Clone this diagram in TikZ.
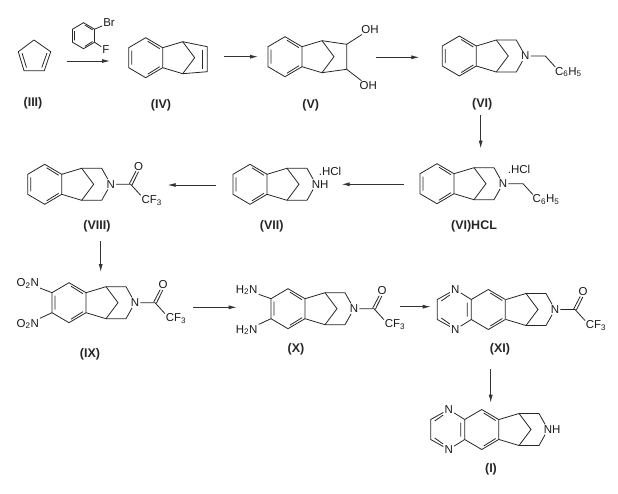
\documentclass[tikz,border=0pt]{standalone}
\usepackage{fontspec}
\setmainfont{Liberation Sans}
\usetikzlibrary{arrows.meta}
\newcommand{\sub}[1]{\textsubscript{#1}}
\tikzset{
    bond/.style={line width=.8pt, draw=black!85},
    atom/.style={font=\fontsize{11.5}{13}\selectfont, inner sep=1pt, text=black!90},
    cpdname/.style={font=\fontsize{12.5}{14}\selectfont\bfseries, inner sep=1pt, text=black!85},
    reaction/.style={line width=.8pt, draw=black!80, -{Latex[length=8pt, width=4pt]}},
    pics/benzo/.default=-14,
    pics/benzo/.style={code={
        \coordinate (-ur) at (17,-10);
        \coordinate (-lr) at (17,10);
        \coordinate (-ul) at (-17,-10);
        \coordinate (-ll) at (-17,10);
        \draw[bond] (-ur) -- (0,-20) -- (-ul) -- (-ll) -- (0,20) -- (-lr) -- cycle;
        \draw[bond] (#1,-7) -- (#1,7) (2,-16.5) -- (14,-9) (2,16.5) -- (14,9);
    }},
    pics/bridge/.style={code={
        \coordinate (-t) at (37,-16);
        \coordinate (-b) at (37,16);
        \draw[bond] (17,-10) -- (-t) -- (49,0) -- (-b) -- (17,10);
    }},
    pics/azacycle/.style={code={
        \node[atom] (-n) at (66,0) {#1};
        \draw[bond] (-t) -- (57,-16) -- (-n) -- (57,16) -- (-b);
    }},
    pics/benzyl/.style={code={
        \node[atom] (-ph) at (43,16) {C\sub{6}H\sub{5}};
        \draw[bond] (-n) -- (20,0) -- (30,11);
    }},
    pics/tfa/.style={code={
        \coordinate (-c) at (20,0);
        \node[atom] (-o) at (28,-18) {O};
        \node[atom] (-cf) at (41,16) {CF\sub{3}};
        \draw[bond] (-n) -- (-c) -- (30,11);
        \draw[bond] (18.7,-.6) -- (25.2,-13) (21.3,.6) -- (27.8,-12.5);
    }},
    pics/pyrazine/.style={code={
        \node[atom] (-nt) at (-33,-20) {N};
        \node[atom] (-nb) at (-33,20) {N};
        \draw[bond] (-nt) -- (-17,-10) (-nb) -- (-17,10);
        \draw[bond] (-nt) -- (-51,-10) -- (-51,10) -- (-nb);
        \draw[bond] (-47,-8.5) -- (-38.5,-14.5) (-47,8.5) -- (-38.5,14.5);
    }},
}
\begin{document}
\begin{tikzpicture}[x=1pt, y=-1pt]
    \useasboundingbox (0,0) rectangle (618,493);

    % first row
    \coordinate (iiia) at (34,40);
    \coordinate (iiib) at (50.7,51.7);
    \coordinate (iiic) at (44.3,70.7);
    \coordinate (iiid) at (24,70.7);
    \coordinate (iiie) at (18.3,51.7);
    \draw[bond] (iiia) -- (iiib) -- (iiic) -- (iiid) -- (iiie) -- cycle;
    \draw[bond] (22,53) -- (26.5,67.5) (47,53) -- (41.8,67.5);
    \node[cpdname] (III) at (33,103) {(III)};

    \pic[scale=.65] (fb) at (83.5,35.7) {benzo};
    \node[atom] (Br) at (109,23) {Br};
    \node[atom] (F) at (106,50) {F};
    \draw[bond] (fb-ur) -- (Br);
    \draw[bond] (fb-lr) -- (F);
    \coordinate (r1a) at (66.7,61);
    \coordinate (r1b) at (110,61);
    \draw[reaction] (r1a) -- (r1b);

    \pic (iv) at (145.7,57.7) {benzo};
    \pic (iv) at (145.7,57.7) {bridge};
    \draw[bond] (iv-t) -- (207.3,46.7) -- (207.3,71.7) -- (iv-b);
    \draw[bond] (202.7,50) -- (202.7,69);
    \node[cpdname] (IV) at (161,105) {(IV)};

    \coordinate (r2a) at (224,56.7);
    \coordinate (r2b) at (258,56.7);
    \draw[reaction] (r2a) -- (r2b);

    \pic (v) at (285,56.7) {benzo};
    \pic (v) at (285,56.7) {bridge};
    \node[atom] (OHa) at (370,29.3) {OH};
    \node[atom] (OHb) at (368.3,86) {OH};
    \coordinate (vc) at (346.7,44.3);
    \coordinate (vd) at (346.7,69.3);
    \draw[bond] (v-t) -- (vc) -- (vd) -- (v-b);
    \draw[bond] (vc) -- (OHa);
    \draw[bond] (vd) -- (OHb);
    \node[cpdname] (V) at (310.7,105) {(V)};

    \coordinate (r3a) at (376,57.3);
    \coordinate (r3b) at (419.3,57.3);
    \draw[reaction] (r3a) -- (r3b);

    \pic (vi) at (459.3,56) {benzo};
    \pic (vi) at (459.3,56) {bridge};
    \pic (vi) at (459.3,56) {azacycle={N}};
    \pic (vi) at (vi-n) {benzyl};
    \node[cpdname] (VI) at (482.3,104) {(VI)};

    \coordinate (r4a) at (480.7,115);
    \coordinate (r4b) at (480.7,148.5);
    \draw[reaction] (r4a) -- (r4b);

    % second row
    \pic (hcl) at (437,183.7) {benzo};
    \pic (hcl) at (437,183.7) {bridge};
    \pic (hcl) at (437,183.7) {azacycle={N}};
    \pic (hcl) at (hcl-n) {benzyl};
    \node[atom] (HCla) at (519,169.5) {.HCl};
    \node[cpdname] (VIHCL) at (474,226.7) {(VI)HCL};

    \coordinate (r5a) at (404,184.3);
    \coordinate (r5b) at (341.7,184.3);
    \draw[reaction] (r5a) -- (r5b);

    \pic (vii) at (250,184.3) {benzo};
    \pic (vii) at (250,184.3) {bridge};
    \pic (vii) at (250,184.3) {azacycle={N\rlap{H}}};
    \node[atom] (HClb) at (330,171.7) {.HCl};
    \node[cpdname] (VII) at (271.7,226) {(VII)};

    \coordinate (r6a) at (216,185);
    \coordinate (r6b) at (167.7,185);
    \draw[reaction] (r6a) -- (r6b);

    \pic (viii) at (44.7,184.3) {benzo};
    \pic (viii) at (44.7,184.3) {bridge};
    \pic (viii) at (44.7,184.3) {azacycle={N}};
    \pic (viii) at (viii-n) {tfa};
    \node[cpdname] (VIII) at (97,226) {(VIII)};

    \coordinate (r7a) at (100.7,241);
    \coordinate (r7b) at (100.7,272);
    \draw[reaction] (r7a) -- (r7b);

    % third row
    \pic (ix) at (69,302.7) {benzo};
    \pic (ix) at (69,302.7) {bridge};
    \pic (ix) at (69,302.7) {azacycle={N}};
    \pic (ix) at (ix-n) {tfa};
    \node[atom] (NOa) at (27.7,283.3) {O\sub{2}N};
    \node[atom] (NOb) at (27.7,324) {O\sub{2}N};
    \draw[bond] (NOa) -- (ix-ul);
    \draw[bond] (NOb) -- (ix-ll);
    \node[cpdname] (IX) at (90,354) {(IX)};

    \coordinate (r8a) at (193.3,307.3);
    \coordinate (r8b) at (236.7,307.3);
    \draw[reaction] (r8a) -- (r8b);

    \pic (x) at (288,308.7) {benzo};
    \pic (x) at (288,308.7) {bridge};
    \pic (x) at (288,308.7) {azacycle={N}};
    \pic (x) at (x-n) {tfa};
    \node[atom] (NHa) at (246.7,290) {H\sub{2}N};
    \node[atom] (NHb) at (246.7,330) {H\sub{2}N};
    \draw[bond] (NHa) -- (x-ul);
    \draw[bond] (NHb) -- (x-ll);
    \node[cpdname] (X) at (296,349.3) {(X)};

    \coordinate (r9a) at (400,306.7);
    \coordinate (r9b) at (430.7,306.7);
    \draw[reaction] (r9a) -- (r9b);

    \pic (xi) at (488.3,309.5) {benzo=-21};
    \pic (xi) at (488.3,309.5) {pyrazine};
    \pic (xi) at (489,309.5) {bridge};
    \pic (xi) at (489,309.5) {azacycle={N}};
    \pic (xi) at (xi-n) {tfa};
    \node[cpdname] (XI) at (500,349.3) {(XI)};

    \coordinate (r10a) at (490.7,369);
    \coordinate (r10b) at (490.7,402.7);
    \draw[reaction] (r10a) -- (r10b);

    \pic (i) at (481.7,429.5) {benzo=-21};
    \pic (i) at (481.7,429.5) {pyrazine};
    \pic (i) at (482,429.5) {bridge};
    \pic (i) at (482,429.5) {azacycle={N\rlap{H}}};
    \node[cpdname] (I) at (491,469.3) {(I)};
\end{tikzpicture}
\end{document}
